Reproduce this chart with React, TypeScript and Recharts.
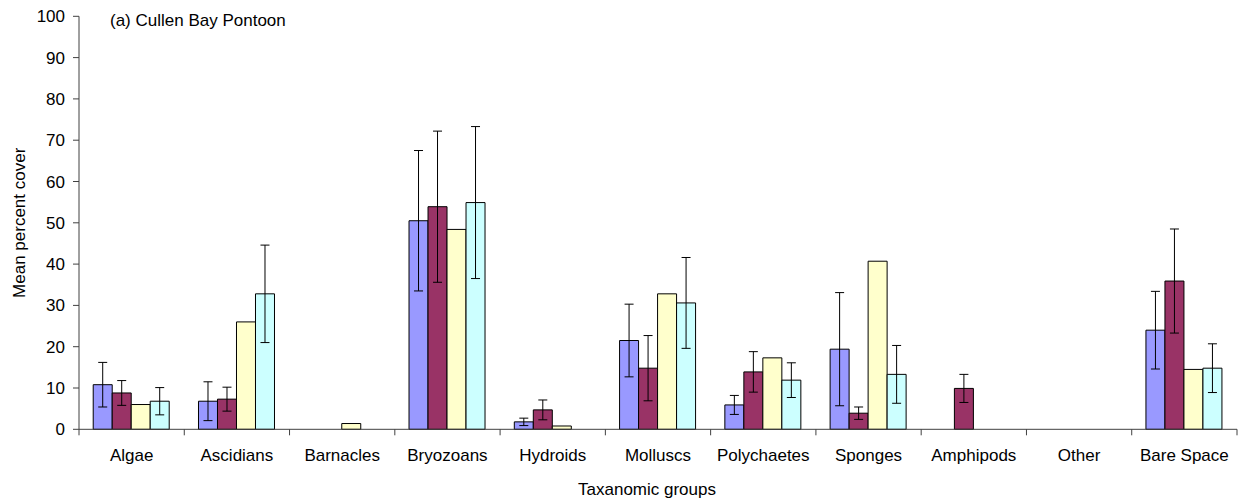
import { BarChart, Bar, XAxis, YAxis, ErrorBar, Label } from "recharts";

// Mean percent cover by taxonomic group, four surveys, with error bars
const categories = [
  "Algae",
  "Ascidians",
  "Barnacles",
  "Bryozoans",
  "Hydroids",
  "Molluscs",
  "Polychaetes",
  "Sponges",
  "Amphipods",
  "Other",
  "Bare Space",
];
const survey1 = [10.8, 6.8, 0, 50.5, 1.8, 21.5, 5.9, 19.4, 0, 0, 24.0];
const survey1Err = [5.4, 4.7, 0, 17.0, 0.9, 8.8, 2.3, 13.7, 0, 0, 9.4];
const survey2 = [8.8, 7.3, 0, 53.9, 4.7, 14.8, 13.9, 3.9, 9.9, 0, 35.9];
const survey2Err = [3.0, 2.9, 0, 18.3, 2.4, 7.9, 4.9, 1.5, 3.4, 0, 12.6];
const survey3 = [6.0, 26.0, 1.4, 48.4, 0.8, 32.8, 17.3, 40.7, 0, 0, 14.5];
const survey4 = [6.8, 32.8, 0, 54.9, 0, 30.6, 11.9, 13.3, 0, 0, 14.8];
const survey4Err = [3.3, 11.8, 0, 18.4, 0, 11.0, 4.2, 7.0, 0, 0, 5.9];

const yTicks = [0, 10, 20, 30, 40, 50, 60, 70, 80, 90, 100];

const data = categories.map((name, i) => ({
  name,
  s1: survey1[i],
  s1Err: survey1Err[i],
  s2: survey2[i],
  s2Err: survey2Err[i],
  s3: survey3[i],
  s4: survey4[i],
  s4Err: survey4Err[i],
}));

const FONT = '"Liberation Sans", Arial, sans-serif';
const AXIS = "#404040";
const TICK_SIZE = 6;
const TICK_MARGIN = 14;
const tickStyle = { fill: "#000", fontSize: 17, fontFamily: FONT };

// Excel-style category axis: tick marks sit on the boundaries between categories
function CategoryTick(props: any) {
  const { x, y, payload, index, visibleTicksCount } = props;
  const half = payload?.offset ?? 0;
  const axisY = y - TICK_SIZE - TICK_MARGIN;
  const last = index === (visibleTicksCount ?? categories.length) - 1;
  return (
    <g>
      <line x1={x - half} x2={x - half} y1={axisY} y2={axisY + TICK_SIZE} stroke={AXIS} />
      {last && <line x1={x + half} x2={x + half} y1={axisY} y2={axisY + TICK_SIZE} stroke={AXIS} />}
      <text x={x} y={y} dy="0.71em" textAnchor="middle" {...tickStyle}>
        {payload.value}
      </text>
    </g>
  );
}

export default function App() {
  return (
    <div style={{ position: "absolute", left: 0, top: 0, width: 1241, height: 502, fontFamily: FONT }}>
      <BarChart
        width={1241}
        height={502}
        data={data}
        margin={{ top: 16.3, right: 4, bottom: 0, left: 0 }}
        barCategoryGap="13.5%"
        barGap={0}
      >
        <XAxis
          dataKey="name"
          interval={0}
          tickLine={false}
          tickSize={TICK_SIZE}
          tickMargin={TICK_MARGIN}
          axisLine={{ stroke: AXIS }}
          tick={<CategoryTick />}
          height={72.7}
        >
          <Label
            value="Taxanomic groups"
            position="insideBottom"
            offset={7}
            dx={-11}
            style={{ fill: "#000", fontSize: 17, fontFamily: FONT }}
          />
        </XAxis>
        <YAxis
          domain={[0, 100]}
          ticks={yTicks}
          interval={0}
          width={79}
          tickSize={6}
          tickMargin={8}
          axisLine={{ stroke: AXIS }}
          tickLine={{ stroke: AXIS }}
          tick={tickStyle}
        >
          <Label
            value="Mean percent cover"
            angle={-90}
            position="center"
            dx={-21}
            style={{ fill: "#000", fontSize: 17, fontFamily: FONT, textAnchor: "middle" }}
          />
        </YAxis>
        <Bar dataKey="s1" name="Survey 1" fill="#9999FF" stroke="#000" strokeWidth={1} isAnimationActive={false}>
          <ErrorBar dataKey="s1Err" width={4.5} stroke="#000" strokeWidth={1} />
        </Bar>
        <Bar dataKey="s2" name="Survey 2" fill="#993366" stroke="#000" strokeWidth={1} isAnimationActive={false}>
          <ErrorBar dataKey="s2Err" width={4.5} stroke="#000" strokeWidth={1} />
        </Bar>
        <Bar dataKey="s3" name="Survey 3" fill="#FFFFCC" stroke="#000" strokeWidth={1} isAnimationActive={false} />
        <Bar dataKey="s4" name="Survey 4" fill="#CCFFFF" stroke="#000" strokeWidth={1} isAnimationActive={false}>
          <ErrorBar dataKey="s4Err" width={4.5} stroke="#000" strokeWidth={1} />
        </Bar>
      </BarChart>
      <div
        style={{
          position: "absolute",
          left: 110,
          top: 11.6,
          fontSize: 17,
          lineHeight: "17px",
          color: "#000",
          whiteSpace: "nowrap",
        }}
      >
        (a) Cullen Bay Pontoon
      </div>
    </div>
  );
}
